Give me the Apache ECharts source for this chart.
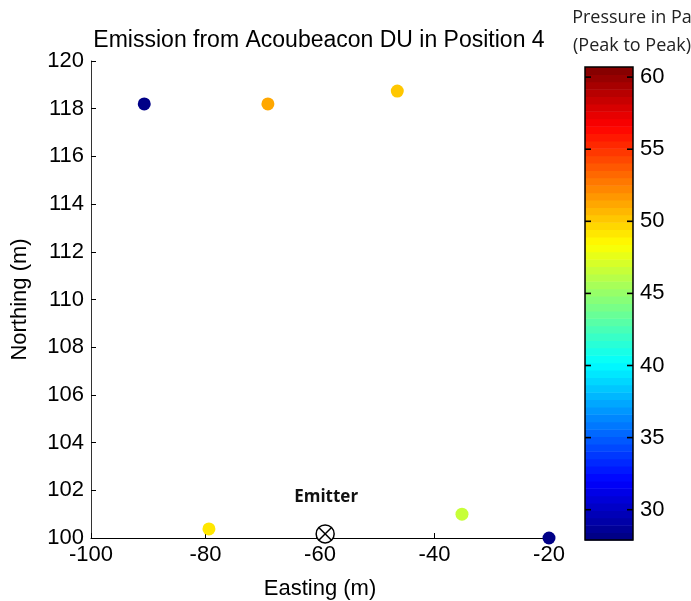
<!DOCTYPE html>
<html>
<head>
<meta charset="utf-8">
<script src="https://cdn.jsdelivr.net/npm/echarts@6/dist/echarts.min.js"></script>
<style>
  html, body { margin: 0; padding: 0; background: #fff; }
  #chart { width: 691px; height: 601px; }
</style>
</head>
<body>
<div id="chart"></div>
<script>
// Receiver positions (m) and measured peak-to-peak pressure (Pa)
const easting  = [-90.7, -69.1, -46.5, -79.4, -35.2, -20.0];
const northing = [118.2, 118.2, 118.74, 100.38, 101.0, 100.0];
const pressure = [28.2, 51.4, 50.4, 49.1, 46.8, 28.0];

// Emitter location
const emitterPos = [-59.1, 100.17];
const emitterLabel = 'Emitter';

// Colour scale
const cRange = [27.9, 60.7];
const cbTicks = [30, 35, 40, 45, 50, 55, 60];
const nColors = 64;

function clamp01(v) { return Math.max(0, Math.min(1, v)); }
// MATLAB-style jet colormap, quantised to nColors levels
function jet(value) {
  let f = (value - cRange[0]) / (cRange[1] - cRange[0]);
  let idx = Math.min(nColors - 1, Math.max(0, Math.floor(f * nColors)));
  f = (idx + 0.5) / nColors;
  const r = clamp01(1.5 - Math.abs(4 * f - 3));
  const g = clamp01(1.5 - Math.abs(4 * f - 2));
  const b = clamp01(1.5 - Math.abs(4 * f - 1));
  return 'rgb(' + Math.round(r * 255) + ',' + Math.round(g * 255) + ',' + Math.round(b * 255) + ')';
}

const points = easting.map((x, i) => [x, northing[i], pressure[i]]);
const bands = [];
const step = (cRange[1] - cRange[0]) / nColors;
for (let i = 0; i < nColors; i++) {
  const lo = cRange[0] + i * step;
  bands.push([0, lo, lo + step]);
}

const fontMain = 'Liberation Sans, Arial, Helvetica, sans-serif';
const fontNote = 'Open Sans, Noto Sans, sans-serif';

const chart = echarts.init(document.getElementById('chart'));
chart.setOption({
  animation: false,
  backgroundColor: '#fff',
  title: [{
    text: 'Emission from Acoubeacon DU in Position 4',
    left: 314, top: 24, textAlign: 'center',
    textStyle: { fontFamily: fontMain, fontWeight: 'normal', fontSize: 23, color: '#000' }
  }, {
    text: 'Pressure in Pa\n(Peak to Peak)',
    left: 627, top: -1, textAlign: 'center',
    textStyle: { fontFamily: fontNote, fontWeight: 'normal', fontSize: 18, lineHeight: 28, color: '#222' }
  }],
  grid: [
    { left: 91, top: 61, width: 458, height: 477, outerBoundsMode: 'none', containLabel: false },
    { left: 585, top: 67, width: 48, height: 473, outerBoundsMode: 'none', containLabel: false,
      show: true, borderColor: '#000', borderWidth: 1.5, backgroundColor: 'transparent', z: 5 }
  ],
  xAxis: [{
    gridIndex: 0, type: 'value', min: -100, max: -20, interval: 20,
    name: 'Easting (m)', nameLocation: 'middle', nameGap: 40,
    nameTextStyle: { fontFamily: fontMain, fontSize: 22, color: '#000' },
    axisLine: { show: true, onZero: false, lineStyle: { color: '#000', width: 1 } },
    axisTick: { show: true, inside: true, length: 5, lineStyle: { color: '#000' } },
    axisLabel: { fontFamily: fontMain, fontSize: 22, color: '#000', margin: 6, showMinLabel: true, showMaxLabel: true },
    splitLine: { show: false }
  }, {
    gridIndex: 1, type: 'value', min: 0, max: 1, show: false
  }],
  yAxis: [{
    gridIndex: 0, type: 'value', min: 100, max: 120, interval: 2,
    name: 'Northing (m)', nameLocation: 'middle', nameGap: 60, nameRotate: 90,
    nameTextStyle: { fontFamily: fontMain, fontSize: 22, color: '#000' },
    axisLine: { show: true, onZero: false, lineStyle: { color: '#333', width: 1 } },
    axisTick: { show: true, inside: true, length: 5, lineStyle: { color: '#000' } },
    axisLabel: { fontFamily: fontMain, fontSize: 22, color: '#000', margin: 7 },
    splitLine: { show: false }
  }, {
    gridIndex: 1, type: 'value', min: cRange[0], max: cRange[1], position: 'right',
    axisLine: { show: false },
    axisTick: { show: false },
    axisLabel: { fontFamily: fontMain, fontSize: 22, color: '#000', margin: 7, customValues: cbTicks },
    splitLine: { show: false }
  }],
  series: [{
    // colour bar: one rect per colormap level, plus the inward tick marks
    // for any labelled value that falls inside that level
    type: 'custom',
    xAxisIndex: 1, yAxisIndex: 1,
    data: bands,
    silent: true,
    z: 1,
    encode: { x: 0, y: 1 },
    renderItem: function (params, api) {
      const lo = api.value(1), hi = api.value(2);
      const p0 = api.coord([0, hi]);
      const p1 = api.coord([1, lo]);
      const children = [{
        type: 'rect',
        z2: 0,
        shape: { x: p0[0], y: p0[1], width: p1[0] - p0[0], height: p1[1] - p0[1] + 0.5 },
        style: { fill: jet((lo + hi) / 2) }
      }];
      cbTicks.forEach(function (t) {
        if (t >= lo && t < hi) {
          const l = api.coord([0, t]);
          const r = api.coord([1, t]);
          children.push({
            type: 'rect', z2: 100,
            shape: { x: l[0], y: l[1] - 0.8, width: 6, height: 1.6 },
            style: { fill: '#000' }
          }, {
            type: 'rect', z2: 100,
            shape: { x: r[0] - 6, y: r[1] - 0.8, width: 6, height: 1.6 },
            style: { fill: '#000' }
          });
        }
      });
      return { type: 'group', children: children };
    }
  }, {
    // receiver measurements
    type: 'scatter',
    xAxisIndex: 0, yAxisIndex: 0,
    data: points,
    symbol: 'circle',
    symbolSize: 13,
    z: 3,
    itemStyle: { opacity: 1, color: function (p) { return jet(p.value[2]); } }
  }, {
    // emitter marker
    type: 'custom',
    xAxisIndex: 0, yAxisIndex: 0,
    data: [emitterPos],
    z: 4,
    clip: false,
    renderItem: function (params, api) {
      const c = api.coord([api.value(0), api.value(1)]);
      const r = 9;
      const d = r * Math.SQRT1_2;
      return {
        type: 'group',
        children: [{
          type: 'circle',
          shape: { cx: c[0], cy: c[1], r: r },
          style: { fill: '#fff', stroke: '#000', lineWidth: 1.5 }
        }, {
          type: 'line',
          shape: { x1: c[0] - d, y1: c[1] - d, x2: c[0] + d, y2: c[1] + d },
          style: { stroke: '#000', lineWidth: 1.5 }
        }, {
          type: 'line',
          shape: { x1: c[0] - d, y1: c[1] + d, x2: c[0] + d, y2: c[1] - d },
          style: { stroke: '#000', lineWidth: 1.5 }
        }, {
          type: 'text',
          style: {
            text: emitterLabel, x: c[0] + 1, y: c[1] - 37, align: 'center', verticalAlign: 'middle',
            font: 'bold 17px ' + fontNote, fill: '#111'
          }
        }]
      };
    }
  }]
});
</script>
</body>
</html>
